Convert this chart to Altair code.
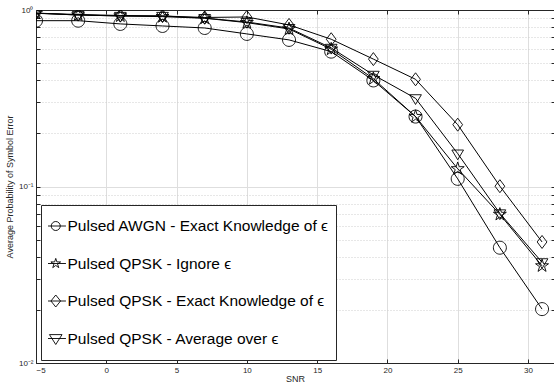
import altair as alt
import pandas as pd

snr = [-5, -2, 1, 4, 7, 10, 13, 16, 19, 22, 25, 28, 31]
awgn_exact = [0.870, 0.870, 0.834, 0.812, 0.791, 0.732, 0.677, 0.581, 0.399, 0.249, 0.1105, 0.0450, 0.0202]
qpsk_ignore = [0.958, 0.937, 0.925, 0.917, 0.898, 0.848, 0.781, 0.600, 0.408, 0.249, 0.126, 0.0695, 0.0355]
qpsk_exact = [0.960, 0.943, 0.931, 0.925, 0.907, 0.913, 0.823, 0.683, 0.527, 0.405, 0.224, 0.1004, 0.0485]
qpsk_avg = [0.960, 0.937, 0.925, 0.925, 0.900, 0.855, 0.790, 0.610, 0.429, 0.316, 0.1536, 0.0704, 0.0372]

series_names = [
    "Pulsed AWGN - Exact Knowledge of ϵ",
    "Pulsed QPSK - Ignore ϵ",
    "Pulsed QPSK - Exact Knowledge of ϵ",
    "Pulsed QPSK - Average over ϵ",
]
series_values = [awgn_exact, qpsk_ignore, qpsk_exact, qpsk_avg]

x_ticks = [-5, 0, 5, 10, 15, 20, 25, 30]
y_ticks = [0.01, 0.02, 0.03, 0.04, 0.05, 0.06, 0.07, 0.08, 0.09,
           0.1, 0.2, 0.3, 0.4, 0.5, 0.6, 0.7, 0.8, 0.9, 1]

rows = []
for name, vals in zip(series_names, series_values):
    for s, v in zip(snr, vals):
        rows.append({"snr": s, "pe": v, "series": name})
df = pd.DataFrame(rows)

# marker shapes (unit square paths)
star = ("M0,-1.05L0.236,-0.324L0.999,-0.324L0.381,0.124L0.617,0.849L0,0.401"
        "L-0.617,0.849L-0.381,0.124L-0.999,-0.324L-0.236,-0.324Z")
circle = "M1,0A1,1 0 1,1 -1,0A1,1 0 1,1 1,0Z"
diamond = "M0,-1L0.75,0L0,1L-0.75,0Z"
tri_down = "M-0.9,-0.55L0.9,-0.55L0,0.95Z"
marker_paths = [circle, star, diamond, tri_down]

# legend symbols: short line with marker
lg_circle = "M-1.7,0L1.7,0M0.75,0A0.75,0.75 0 1,1 -0.75,0A0.75,0.75 0 1,1 0.75,0"
lg_star = ("M-1.7,0L1.7,0M0,-0.85L0.191,-0.263L0.808,-0.263L0.309,0.1L0.5,0.688L0,0.325"
           "L-0.5,0.688L-0.309,0.1L-0.808,-0.263L-0.191,-0.263Z")
lg_diamond = "M-1.7,0L1.7,0M0,-1L0.8,0L0,1L-0.8,0Z"
lg_tri = "M-1.7,0L1.7,0M-1.05,-0.65L1.05,-0.65L0,1.0Z"
legend_paths = [lg_circle, lg_star, lg_diamond, lg_tri]

AX = "#262626"
xscale = alt.Scale(domain=[-5, 31.85], nice=False, zero=False)
yscale = alt.Scale(type="log", domain=[0.01, 1], nice=False)
major_test = "datum.value == 1 || datum.value == 0.1 || datum.value == 0.01"

base = alt.Chart(df)

lines = base.mark_line(color="black", strokeWidth=1, clip=True).encode(
    x=alt.X("snr:Q", scale=xscale, axis=alt.Axis(
        orient="bottom", values=x_ticks, title="SNR", ticks=False, grid=True,
        gridColor="#dedede", gridWidth=1, domainColor=AX, domainWidth=1,
        labelFontSize=8, labelColor=AX, labelPadding=3, labelFont="Liberation Sans",
        titleFontSize=9, titleFont="Liberation Sans", titleFontWeight="normal",
        titleColor=AX, titlePadding=0)),
    y=alt.Y("pe:Q", scale=yscale, axis=alt.Axis(
        orient="left", values=y_ticks, ticks=False, grid=True,
        gridColor={"condition": {"test": major_test, "value": "#dedede"}, "value": "#cfcfcf"},
        gridDash={"condition": {"test": major_test, "value": []}, "value": [1, 2]},
        domainColor=AX, domainWidth=1,
        labelExpr="datum.value == 1 ? '10⁰' : datum.value == 0.1 ? '10⁻¹' : datum.value == 0.01 ? '10⁻²' : ''",
        labelFontSize=8, labelColor=AX, labelPadding=3, labelFont="Liberation Sans",
        title="Average Probability of Symbol Error", titleFontSize=9,
        titleFont="Liberation Sans", titleFontWeight="normal", titleColor=AX,
        titlePadding=4)),
    detail="series:N",
    order="snr:Q",
)

points = base.mark_point(filled=False, color="black", strokeWidth=0.9, size=169,
                         opacity=1, clip=True).encode(
    x=alt.X("snr:Q", scale=xscale, axis=alt.Axis(
        orient="bottom", offset=-4, values=x_ticks, ticks=True, tickSize=4,
        tickColor=AX, labels=False, domain=False, grid=False, title=None)),
    y=alt.Y("pe:Q", scale=yscale, axis=alt.Axis(
        orient="left", offset=-4, values=y_ticks, ticks=True, tickSize=4,
        tickColor=AX, labels=False, domain=False, grid=False, title=None)),
    shape=alt.Shape("series:N", scale=alt.Scale(domain=series_names, range=marker_paths),
                    legend=None),
)

legend_layer = base.mark_point(filled=False, color="black", strokeWidth=0.9, size=144,
                               opacity=0, clip=True).encode(
    x=alt.X("snr:Q", scale=xscale, axis=alt.Axis(
        orient="top", values=x_ticks, ticks=False, labels=False, domain=True,
        domainColor=AX, domainWidth=1, grid=False, title=None)),
    y=alt.Y("pe:Q", scale=yscale, axis=alt.Axis(
        orient="right", offset=-3, values=y_ticks, ticks=True, tickSize=3,
        tickColor=AX, labels=False, domain=False, grid=False, title=None)),
    shape=alt.Shape("series:N", scale=alt.Scale(domain=series_names, range=legend_paths),
                    legend=alt.Legend(
                        orient="none", legendX=5, legendY=195, title=None,
                        padding=7, clipHeight=28, rowPadding=9.5,
                        symbolSize=144, symbolStrokeWidth=0.9, symbolStrokeColor="black",
                        symbolFillColor="transparent", symbolOpacity=1,
                        labelFontSize=15.5, labelFont="Liberation Sans", labelColor="black",
                        labelOffset=4, labelLimit=500,
                        labelExpr="datum.label + '\u2003'",
                        strokeColor=AX, fillColor="white", cornerRadius=0)),
)

top_ticks = base.mark_point(opacity=0, clip=True).encode(
    x=alt.X("snr:Q", scale=xscale, axis=alt.Axis(
        orient="top", offset=-4, values=x_ticks, ticks=True, tickSize=4,
        tickColor=AX, labels=False, domain=False, grid=False, title=None)),
    y=alt.Y("pe:Q", scale=yscale, axis=None),
)

chart = alt.layer(lines, points, legend_layer, top_ticks).resolve_axis(
    x="independent", y="independent"
).resolve_scale(shape="independent").properties(
    width=518, height=353,
    padding={"left": 36, "top": 10, "right": 0, "bottom": 20},
    autosize=alt.AutoSizeParams(type="none"),
    background="white",
).configure_view(stroke=None)

chart.save("out.html", embed_options={"renderer": "svg", "actions": False})
